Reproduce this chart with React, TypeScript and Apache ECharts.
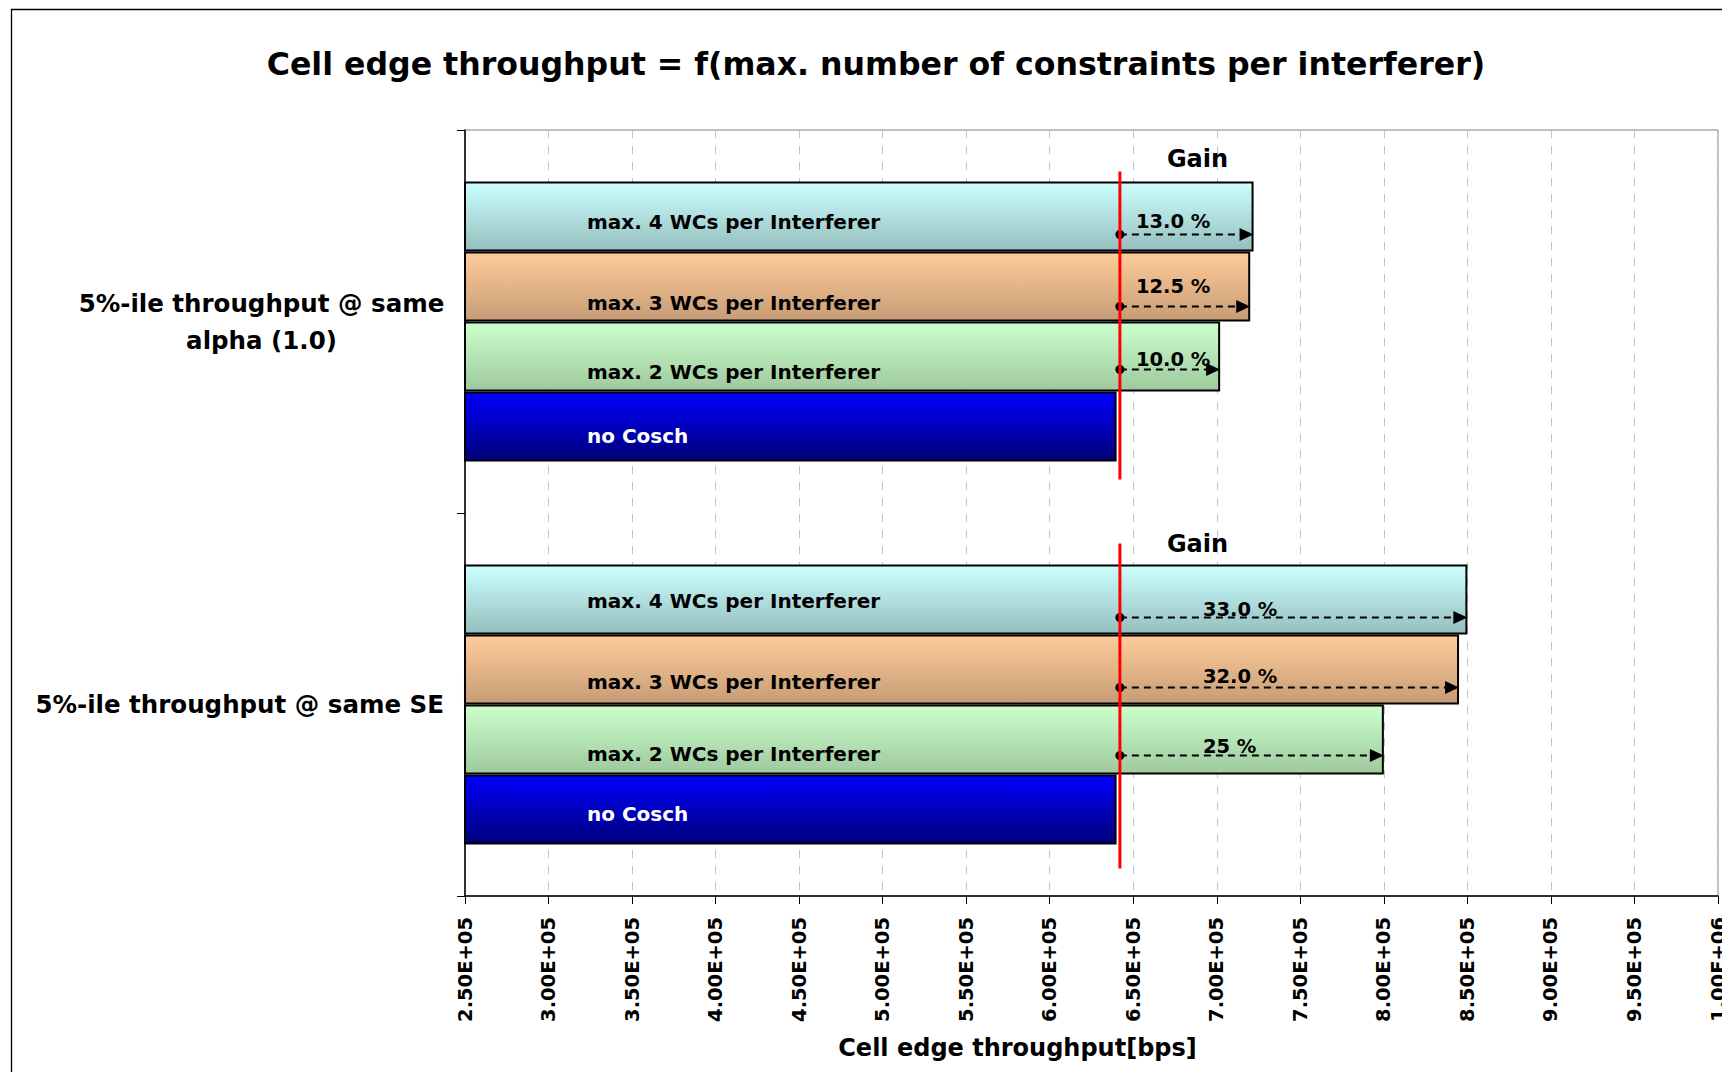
import React, { useEffect, useRef } from 'react';
import * as echarts from 'echarts';

// Categories on the vertical axis, bottom to top.
const categories = ['5%-ile throughput @ same SE', '5%-ile throughput @ same\nalpha (1.0)'];

// Bar series, listed from the top bar of each group to the bottom one.
const seriesNames = [
  'max. 4 WCs per Interferer',
  'max. 3 WCs per Interferer',
  'max. 2 WCs per Interferer',
  'no Cosch',
];
const max4Wc = [8.5e5, 7.22e5];
const max3Wc = [8.45e5, 7.2e5];
const max2Wc = [8.0e5, 7.02e5];
const noCosch = [6.4e5, 6.4e5];

// Reference throughput (red marker) and the gains written on the arrows.
const referenceThroughput = [6.42e5, 6.42e5];
const gainMax4 = ['33.0 %', '13.0 %'];
const gainMax3 = ['32.0 %', '12.5 %'];
const gainMax2 = ['25 %', '10.0 %'];
const gainTitle = 'Gain';

// Value axis.
const axisMin = 2.5e5;
const axisMax = 1.0e6;
const axisStep = 0.5e5;

const FONT = 'DejaVu Sans';
const BAR_H = 70;

const barValues = [max4Wc, max3Wc, max2Wc, noCosch];
const gainLabels = [gainMax4, gainMax3, gainMax2];

const barGradients = [
  ['#ccffff', '#96bebe'],
  ['#ffcc99', '#c69c76'],
  ['#ccffcc', '#9ec99e'],
  ['#0000ff', '#00007a'],
];
const barLabelColors = ['#000', '#000', '#000', '#fff'];

// Vertical nudges of the bar captions, per category then per bar (top to bottom).
const barLabelShift = [
  [1, 12, 14, 4],
  [5, 16, 15, 9],
];
// Arrow height above the bar bottom, and the gain text above the arrow.
const arrowLift = [
  [17, 17, 19],
  [17, 15, 22],
];
const gainTextLift = [
  [8, 11, 9],
  [13, 20, 10],
];
const gainTextIndent = [83, 16];
// Red marker extent beyond the bar group (above, below) and "Gain" title lift.
const refExtent = [
  [21, 24],
  [10, 18],
];
const gainTitleLift = [21, 23];

const sci = (v: number) => {
  const e = Math.floor(Math.log10(v) + 1e-9);
  const m = v / Math.pow(10, e);
  return `${m.toFixed(2)}E+${String(e).padStart(2, '0')}`;
};

export default function App() {
  const ref = useRef<HTMLDivElement>(null);

  useEffect(() => {
    if (!ref.current) return;
    const chart = echarts.init(ref.current, undefined, { renderer: 'svg' });

    const barSeries = barValues.map((vals, slot) => ({
      type: 'bar',
      name: seriesNames[slot],
      barWidth: BAR_H,
      barGap: '0%',
      z: 2,
      itemStyle: {
        color: new echarts.graphic.LinearGradient(0, 0, 0, 1, [
          { offset: 0, color: barGradients[slot][0] },
          { offset: 1, color: barGradients[slot][1] },
        ]),
        borderColor: '#000',
        borderWidth: 2,
      },
      label: {
        show: true,
        position: [123, '50%'],
        align: 'left',
        verticalAlign: 'middle',
        formatter: seriesNames[slot],
        color: barLabelColors[slot],
        fontFamily: FONT,
        fontWeight: 'bold',
        fontSize: 20,
      },
      data: vals.map((v, ci) => ({
        value: v,
        label: { offset: [0, barLabelShift[ci][slot]] },
      })),
    }));

    const arrowData: number[][] = [];
    categories.forEach((_, ci) => {
      for (let slot = 0; slot < 3; slot++) arrowData.push([barValues[slot][ci], ci, slot]);
    });

    const option: any = {
      animation: false,
      backgroundColor: '#fff',
      title: {
        text: 'Cell edge throughput = f(max. number of constraints per interferer)',
        left: 871,
        textAlign: 'center',
        top: 43,
        textStyle: { fontFamily: FONT, fontWeight: 'bold', fontSize: 31.6, color: '#000' },
      },
      graphic: [
        {
          type: 'rect',
          shape: { x: 11.5, y: 9.5, width: 1800, height: 1200 },
          style: { fill: 'none', stroke: '#000', lineWidth: 1.3 },
          silent: true,
        },
      ],
      grid: {
        left: 465,
        top: 130,
        right: 4,
        bottom: 176,
        outerBoundsMode: 'none',
        containLabel: false,
        show: true,
        borderColor: '#808080',
        borderWidth: 1,
        backgroundColor: 'transparent',
      },
      xAxis: {
        type: 'value',
        min: axisMin,
        max: axisMax,
        interval: axisStep,
        name: 'Cell edge throughput[bps]',
        nameLocation: 'middle',
        nameGap: 140,
        nameTextStyle: {
          fontFamily: FONT,
          fontWeight: 'bold',
          fontSize: 24,
          color: '#000',
          padding: [0, 148, 0, 0],
        },
        axisLine: { show: true, lineStyle: { color: '#000', width: 1.5 } },
        axisTick: { show: true, length: 8, lineStyle: { color: '#000' } },
        splitLine: { show: true, lineStyle: { color: '#c4c4c4', type: [8, 8], width: 1 } },
        axisLabel: {
          rotate: 90,
          margin: 21,
          formatter: (v: number) => sci(v),
          fontFamily: FONT,
          fontWeight: 'bold',
          fontSize: 19.5,
          color: '#000',
        },
      },
      yAxis: {
        type: 'category',
        data: categories,
        axisLine: { show: true, lineStyle: { color: '#000', width: 1.5 } },
        axisTick: { show: true, length: 8, lineStyle: { color: '#000' } },
        splitLine: { show: false },
        axisLabel: {
          margin: 21,
          align: 'right',
          fontFamily: FONT,
          fontWeight: 'bold',
          fontSize: 24.5,
          color: '#000',
          formatter: (v: string) =>
            v.includes('\n') ? v.split('\n').map((l) => `{c|${l}}`).join('\n') : v,
          rich: {
            c: {
              width: 365,
              align: 'center',
              lineHeight: 37,
              fontFamily: FONT,
              fontWeight: 'bold',
              fontSize: 24.5,
              color: '#000',
            },
          },
        },
      },
      series: [
        ...barSeries,
        {
          type: 'custom',
          name: 'reference',
          z: 6,
          encode: { x: 0, y: 1 },
          data: categories.map((_, ci) => [referenceThroughput[ci], ci]),
          renderItem: (params: any, api: any) => {
            const ci = params.dataIndex;
            const p = api.coord([api.value(0), api.value(1)]);
            const top = p[1] - 2 * BAR_H;
            const bottom = p[1] + 2 * BAR_H;
            return {
              type: 'group',
              children: [
                {
                  type: 'line',
                  shape: { x1: p[0], y1: top - refExtent[ci][0], x2: p[0], y2: bottom + refExtent[ci][1] },
                  style: { stroke: '#ff0000', lineWidth: 3 },
                },
                {
                  type: 'text',
                  x: p[0] + 77.6,
                  y: top - gainTitleLift[ci],
                  style: {
                    text: gainTitle,
                    fill: '#000',
                    fontFamily: FONT,
                    fontWeight: 'bold',
                    fontSize: 24,
                    align: 'center',
                    verticalAlign: 'middle',
                  },
                },
              ],
            };
          },
        },
        {
          type: 'custom',
          name: 'gain arrows',
          z: 5,
          encode: { x: 0, y: 1 },
          data: arrowData,
          renderItem: (params: any, api: any) => {
            const ci = api.value(1) as number;
            const slot = api.value(2) as number;
            const start = api.coord([referenceThroughput[ci], ci]);
            const end = api.coord([api.value(0), ci]);
            const barTop = start[1] - 2 * BAR_H + slot * BAR_H;
            const y = barTop + BAR_H - arrowLift[ci][slot];
            const x0 = start[0];
            const x1 = end[0];
            return {
              type: 'group',
              children: [
                {
                  type: 'line',
                  shape: { x1: x0, y1: y, x2: x1 - 12, y2: y },
                  style: { stroke: '#000', lineWidth: 2, lineDash: [7, 5] },
                },
                {
                  type: 'polygon',
                  shape: { points: [[x1, y], [x1 - 14, y - 6.5], [x1 - 14, y + 6.5]] },
                  style: { fill: '#000' },
                },
                {
                  type: 'circle',
                  shape: { cx: x0, cy: y, r: 4.5 },
                  style: { fill: '#000' },
                },
                {
                  type: 'text',
                  x: x0 + gainTextIndent[ci],
                  y: y - gainTextLift[ci][slot],
                  style: {
                    text: gainLabels[slot][ci],
                    fill: '#000',
                    fontFamily: FONT,
                    fontWeight: 'bold',
                    fontSize: 19.5,
                    align: 'left',
                    verticalAlign: 'middle',
                  },
                },
              ],
            };
          },
        },
      ],
    };

    chart.setOption(option);
    return () => chart.dispose();
  }, []);

  return (
    <div
      ref={ref}
      style={{ position: 'fixed', left: 0, top: 0, width: 1722, height: 1072, background: '#fff' }}
    />
  );
}
